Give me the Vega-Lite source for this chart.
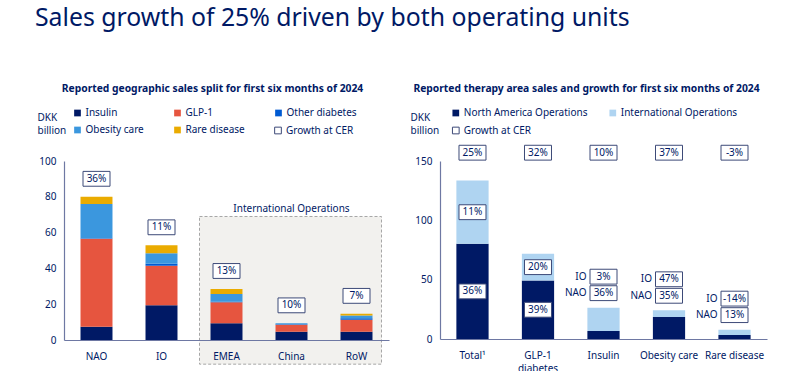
{
  "$schema": "https://vega.github.io/schema/vega-lite/v6.json",
  "background": "white",
  "padding": {"left": 35, "top": 5, "right": 5, "bottom": 0},
  "title": {"text": "Sales growth of 25% driven by both operating units", "anchor": "start", "fontSize": 24.8, "fontWeight": "normal", "color": "#001965", "font": "Noto Sans", "offset": 53, "dx": -2},
  "datasets": {
    "left": [
      {"region": "NAO", "cls": "Insulin", "sales": 7.4},
      {"region": "NAO", "cls": "GLP-1", "sales": 49.2},
      {"region": "NAO", "cls": "Other diabetes", "sales": 0.2},
      {"region": "NAO", "cls": "Obesity care", "sales": 19.2},
      {"region": "NAO", "cls": "Rare disease", "sales": 4.0},
      {"region": "IO", "cls": "Insulin", "sales": 19.4},
      {"region": "IO", "cls": "GLP-1", "sales": 22.1},
      {"region": "IO", "cls": "Other diabetes", "sales": 1.1},
      {"region": "IO", "cls": "Obesity care", "sales": 5.8},
      {"region": "IO", "cls": "Rare disease", "sales": 4.5},
      {"region": "EMEA", "cls": "Insulin", "sales": 9.3},
      {"region": "EMEA", "cls": "GLP-1", "sales": 11.8},
      {"region": "EMEA", "cls": "Other diabetes", "sales": 0.3},
      {"region": "EMEA", "cls": "Obesity care", "sales": 4.3},
      {"region": "EMEA", "cls": "Rare disease", "sales": 2.8},
      {"region": "China", "cls": "Insulin", "sales": 4.6},
      {"region": "China", "cls": "GLP-1", "sales": 3.9},
      {"region": "China", "cls": "Other diabetes", "sales": 0.3},
      {"region": "China", "cls": "Obesity care", "sales": 0.5},
      {"region": "China", "cls": "Rare disease", "sales": 0},
      {"region": "RoW", "cls": "Insulin", "sales": 4.6},
      {"region": "RoW", "cls": "GLP-1", "sales": 6.7},
      {"region": "RoW", "cls": "Other diabetes", "sales": 0.8},
      {"region": "RoW", "cls": "Obesity care", "sales": 1.6},
      {"region": "RoW", "cls": "Rare disease", "sales": 0.9}
    ],
    "leftGrowth": [
      {"region": "NAO", "growth": 36},
      {"region": "IO", "growth": 11},
      {"region": "EMEA", "growth": 13},
      {"region": "China", "growth": 10},
      {"region": "RoW", "growth": 7}
    ],
    "right": [
      {"therapy": "Total", "ops": "North America Operations", "sales": 80.2, "growth": 36},
      {"therapy": "Total", "ops": "International Operations", "sales": 53.3, "growth": 11},
      {"therapy": "GLP-1 diabetes", "ops": "North America Operations", "sales": 49.3, "growth": 39},
      {"therapy": "GLP-1 diabetes", "ops": "International Operations", "sales": 22.5, "growth": 20},
      {"therapy": "Insulin", "ops": "North America Operations", "sales": 6.8, "growth": 36},
      {"therapy": "Insulin", "ops": "International Operations", "sales": 19.6, "growth": 3},
      {"therapy": "Obesity care", "ops": "North America Operations", "sales": 18.6, "growth": 35},
      {"therapy": "Obesity care", "ops": "International Operations", "sales": 5.6, "growth": 47},
      {"therapy": "Rare disease", "ops": "North America Operations", "sales": 3.4, "growth": 13},
      {"therapy": "Rare disease", "ops": "International Operations", "sales": 4.5, "growth": -14}
    ],
    "rightGrowth": [
      {"therapy": "Total", "growth": 25},
      {"therapy": "GLP-1 diabetes", "growth": 32},
      {"therapy": "Insulin", "growth": 10},
      {"therapy": "Obesity care", "growth": 37},
      {"therapy": "Rare disease", "growth": -3}
    ]
  },
  "spacing": 21,
  "resolve": {"scale": {"color": "independent", "stroke": "independent"}},
  "hconcat": [
    {
      "width": 325,
      "height": 179,
      "title": {"text": "Reported geographic sales split for first six months of 2024", "fontSize": 10.3, "fontWeight": "bold", "color": "#001965", "dx": -14, "offset": 14},
      "data": {"name": "left"},
      "layer": [
        {
          "data": {"values": [{}]},
          "mark": {"type": "rect", "fill": "#f2f1ee", "stroke": "#a6a6a6", "strokeDash": [3, 2], "strokeWidth": 1, "xOffset": -11, "x2Offset": 9},
          "encoding": {
            "x": {"datum": "EMEA", "type": "nominal", "bandPosition": 0, "scale": {"domain": ["NAO", "IO", "EMEA", "China", "RoW"], "paddingInner": 0.508, "paddingOuter": 0.254},
              "axis": {"title": null, "labelAngle": 0, "ticks": false, "labelPadding": 11, "zindex": 1, "bandPosition": 0.5}},
            "x2": {"datum": "RoW", "bandPosition": 1},
            "y": {"datum": 69, "type": "quantitative", "scale": {"domain": [0, 100], "nice": false},
              "axis": {"values": [0, 20, 40, 60, 80, 100], "labelOverlap": false, "labelSeparation": 0, "title": ["DKK", "billion"], "titleAngle": 0, "titleAlign": "left", "titleBaseline": "top", "titleX": -27, "titleY": -49}},
            "y2": {"datum": -13.5}
          }
        },
        {
          "data": {"values": [{}]},
          "mark": {"type": "text", "text": "International Operations", "fontSize": 10, "color": "#001965", "baseline": "bottom", "dy": -2},
          "encoding": {
            "x": {"datum": "China", "type": "nominal",
              "axis": {"title": null, "labelAngle": 0, "ticks": false, "labelPadding": 11, "zindex": 1, "bandPosition": 0.5}},
            "y": {"datum": 69, "type": "quantitative",
              "axis": {"values": [0, 20, 40, 60, 80, 100], "labelOverlap": false, "labelSeparation": 0, "title": ["DKK", "billion"], "titleAngle": 0, "titleAlign": "left", "titleBaseline": "top", "titleX": -27, "titleY": -49}}
          }
        },
        {
          "transform": [{"calculate": "indexof(['Insulin','GLP-1','Other diabetes','Obesity care','Rare disease'], datum.cls)", "as": "ord"}],
          "mark": {"type": "bar"},
          "encoding": {
            "x": {"field": "region", "type": "nominal", "axis": {"title": null, "labelAngle": 0, "ticks": false, "labelPadding": 11, "zindex": 1, "bandPosition": 0.5}},
            "y": {"field": "sales", "type": "quantitative", "aggregate": "sum", "stack": "zero",
              "axis": {"values": [0, 20, 40, 60, 80, 100], "labelOverlap": false, "labelSeparation": 0, "title": ["DKK", "billion"], "titleAngle": 0, "titleAlign": "left", "titleBaseline": "top", "titleX": -27, "titleY": -49}},
            "color": {"field": "cls", "type": "nominal",
              "scale": {"domain": ["Insulin", "GLP-1", "Other diabetes", "Obesity care", "Rare disease"], "range": ["#001965", "#e6553f", "#005ad2", "#3b97de", "#eaab00"]},
              "legend": {"orient": "none", "direction": "horizontal", "legendX": 8.5, "legendY": -53, "columns": 3, "title": null, "symbolType": "square", "symbolSize": 45, "labelFontSize": 10, "labelColor": "#001965", "columnPadding": 28, "rowPadding": 7, "labelOffset": 3}},
            "order": {"field": "ord", "type": "quantitative"}
          }
        },
        {
          "transform": [
            {"aggregate": [{"op": "sum", "field": "sales", "as": "total"}], "groupby": ["region"]},
            {"lookup": "region", "from": {"data": {"name": "leftGrowth"}, "key": "region", "fields": ["growth"]}},
            {"calculate": "datum.growth + '%'", "as": "lab"}
          ],
          "layer": [
            {
              "mark": {"type": "point", "shape": "M-1,-0.55H1V0.55H-1Z", "size": 729, "fill": "white", "fillOpacity": 1, "opacity": 1, "strokeWidth": 1, "yOffset": -18},
              "encoding": {
                "x": {"field": "region", "type": "nominal", "axis": {"title": null, "labelAngle": 0, "ticks": false, "labelPadding": 11, "zindex": 1, "bandPosition": 0.5}},
                "y": {"field": "total", "type": "quantitative",
                  "axis": {"values": [0, 20, 40, 60, 80, 100], "labelOverlap": false, "labelSeparation": 0, "title": ["DKK", "billion"], "titleAngle": 0, "titleAlign": "left", "titleBaseline": "top", "titleX": -27, "titleY": -49}},
                "stroke": {"datum": "Growth at CER", "scale": {"range": ["#3d4a78"]},
                  "legend": {"orient": "none", "legendX": 209, "legendY": -35.5, "title": null, "symbolType": "square", "symbolSize": 45, "symbolFillColor": "white", "symbolStrokeWidth": 1, "labelFontSize": 10, "labelColor": "#001965", "labelOffset": 3}}
              }
            },
            {
              "mark": {"type": "text", "fontSize": 10, "color": "#001965", "yOffset": -18},
              "encoding": {
                "x": {"field": "region", "type": "nominal", "axis": {"title": null, "labelAngle": 0, "ticks": false, "labelPadding": 11, "zindex": 1, "bandPosition": 0.5}},
                "y": {"field": "total", "type": "quantitative",
                  "axis": {"values": [0, 20, 40, 60, 80, 100], "labelOverlap": false, "labelSeparation": 0, "title": ["DKK", "billion"], "titleAngle": 0, "titleAlign": "left", "titleBaseline": "top", "titleX": -27, "titleY": -49}},
                "text": {"field": "lab"}
              }
            }
          ]
        }
      ]
    },
    {
      "width": 327,
      "height": 178,
      "title": {"text": "Reported therapy area sales and growth for first six months of 2024", "fontSize": 10.3, "fontWeight": "bold", "color": "#001965", "dx": -17, "offset": 14},
      "layer": [
        {
          "data": {"name": "right"},
          "mark": {"type": "bar"},
          "encoding": {
            "x": {"field": "therapy", "type": "nominal", "scale": {"domain": ["Total", "GLP-1 diabetes", "Insulin", "Obesity care", "Rare disease"], "paddingInner": 0.508, "paddingOuter": 0.25},
              "axis": {"title": null, "labelAngle": 0, "ticks": false, "labelPadding": 11, "labelLineHeight": 13, "labelExpr": "datum.label == 'Total' ? 'Total¹' : datum.label == 'GLP-1 diabetes' ? ['GLP-1', 'diabetes'] : datum.label"}},
            "y": {"field": "sales", "type": "quantitative", "aggregate": "sum", "stack": "zero",
              "scale": {"domain": [0, 150], "nice": false},
              "axis": {"values": [0, 50, 100, 150], "labelOverlap": false, "title": ["DKK", "billion"], "titleAngle": 0, "titleAlign": "left", "titleBaseline": "top", "titleX": -30, "titleY": -49}},
            "color": {"field": "ops", "type": "nominal",
              "scale": {"domain": ["North America Operations", "International Operations"], "range": ["#001965", "#afd4f1"]},
              "legend": {"orient": "none", "direction": "horizontal", "legendX": 10.8, "legendY": -53, "columns": 2, "title": null, "symbolType": "square", "symbolSize": 45, "labelFontSize": 10, "labelColor": "#001965", "columnPadding": 20, "labelOffset": 3}},
            "order": {"field": "ops", "sort": "descending"}
          }
        },
        {
          "data": {"name": "rightGrowth"},
          "transform": [{"calculate": "datum.growth + '%'", "as": "lab"}],
          "layer": [
            {
              "mark": {"type": "point", "shape": "M-1,-0.55H1V0.55H-1Z", "size": 729, "fill": "white", "fillOpacity": 1, "opacity": 1, "strokeWidth": 1},
              "encoding": {
                "x": {"field": "therapy", "type": "nominal"},
                "y": {"datum": 157, "type": "quantitative"},
                "stroke": {"datum": "Growth at CER", "scale": {"range": ["#3d4a78"]},
                  "legend": {"orient": "none", "legendX": 10.8, "legendY": -35.5, "title": null, "symbolType": "square", "symbolSize": 45, "symbolFillColor": "white", "symbolStrokeWidth": 1, "labelFontSize": 10, "labelColor": "#001965", "labelOffset": 3}}
              }
            },
            {
              "mark": {"type": "text", "fontSize": 10, "color": "#001965"},
              "encoding": {
                "x": {"field": "therapy", "type": "nominal"},
                "y": {"datum": 157, "type": "quantitative"},
                "text": {"field": "lab"}
              }
            }
          ]
        },
        {
          "data": {"name": "right"},
          "transform": [
            {"stack": "sales", "groupby": ["therapy"], "sort": [{"field": "ops", "order": "descending"}], "as": ["y0", "y1"]},
            {"joinaggregate": [{"op": "sum", "field": "sales", "as": "total"}], "groupby": ["therapy"]},
            {"calculate": "(datum.y0 + datum.y1) / 2", "as": "mid"},
            {"calculate": "datum.growth + '%'", "as": "lab"},
            {"calculate": "datum.ops == 'North America Operations' ? 'NAO' : 'IO'", "as": "short"}
          ],
          "layer": [
            {
              "transform": [{"filter": "datum.therapy == 'Total' || datum.therapy == 'GLP-1 diabetes'"}],
              "layer": [
                {
                  "mark": {"type": "point", "shape": "M-1,-0.55H1V0.55H-1Z", "size": 729, "fill": "white", "fillOpacity": 1, "opacity": 1, "strokeWidth": 1, "stroke": "#3d4a78"},
                  "encoding": {"x": {"field": "therapy", "type": "nominal"}, "y": {"field": "mid", "type": "quantitative"}}
                },
                {
                  "mark": {"type": "text", "fontSize": 10, "color": "#001965"},
                  "encoding": {"x": {"field": "therapy", "type": "nominal"}, "y": {"field": "mid", "type": "quantitative"}, "text": {"field": "lab"}}
                }
              ]
            },
            {
              "transform": [{"filter": "datum.therapy != 'Total' && datum.therapy != 'GLP-1 diabetes' && datum.short == 'NAO'"}],
              "layer": [
                {
                  "mark": {"type": "point", "shape": "M-1,-0.55H1V0.55H-1Z", "size": 729, "fill": "white", "fillOpacity": 1, "opacity": 1, "strokeWidth": 1, "stroke": "#3d4a78", "yOffset": -14.5},
                  "encoding": {"x": {"field": "therapy", "type": "nominal"}, "y": {"field": "total", "type": "quantitative"}}
                },
                {
                  "mark": {"type": "text", "fontSize": 10, "color": "#001965", "yOffset": -14.5},
                  "encoding": {"x": {"field": "therapy", "type": "nominal"}, "y": {"field": "total", "type": "quantitative"}, "text": {"field": "lab"}}
                },
                {
                  "mark": {"type": "text", "fontSize": 10, "color": "#001965", "yOffset": -14.5, "align": "right", "dx": -17},
                  "encoding": {"x": {"field": "therapy", "type": "nominal"}, "y": {"field": "total", "type": "quantitative"}, "text": {"field": "short"}}
                }
              ]
            },
            {
              "transform": [{"filter": "datum.therapy != 'Total' && datum.therapy != 'GLP-1 diabetes' && datum.short == 'IO'"}],
              "layer": [
                {
                  "mark": {"type": "point", "shape": "M-1,-0.55H1V0.55H-1Z", "size": 729, "fill": "white", "fillOpacity": 1, "opacity": 1, "strokeWidth": 1, "stroke": "#3d4a78", "yOffset": -31},
                  "encoding": {"x": {"field": "therapy", "type": "nominal"}, "y": {"field": "total", "type": "quantitative"}}
                },
                {
                  "mark": {"type": "text", "fontSize": 10, "color": "#001965", "yOffset": -31},
                  "encoding": {"x": {"field": "therapy", "type": "nominal"}, "y": {"field": "total", "type": "quantitative"}, "text": {"field": "lab"}}
                },
                {
                  "mark": {"type": "text", "fontSize": 10, "color": "#001965", "yOffset": -31, "align": "right", "dx": -17},
                  "encoding": {"x": {"field": "therapy", "type": "nominal"}, "y": {"field": "total", "type": "quantitative"}, "text": {"field": "short"}}
                }
              ]
            }
          ]
        }
      ]
    }
  ],
  "config": {
    "font": "Noto Sans",
    "view": {"stroke": null},
    "axis": {"grid": false, "ticks": false, "labelOverlap": false, "domainColor": "#6e78a3", "domainWidth": 1.2, "labelColor": "#001965", "labelFontSize": 10, "labelPadding": 8, "titleColor": "#001965", "titleFontSize": 10, "titleFontWeight": "normal", "titleLineHeight": 13},
    "legend": {"labelFont": "Noto Sans"}
  }
}
